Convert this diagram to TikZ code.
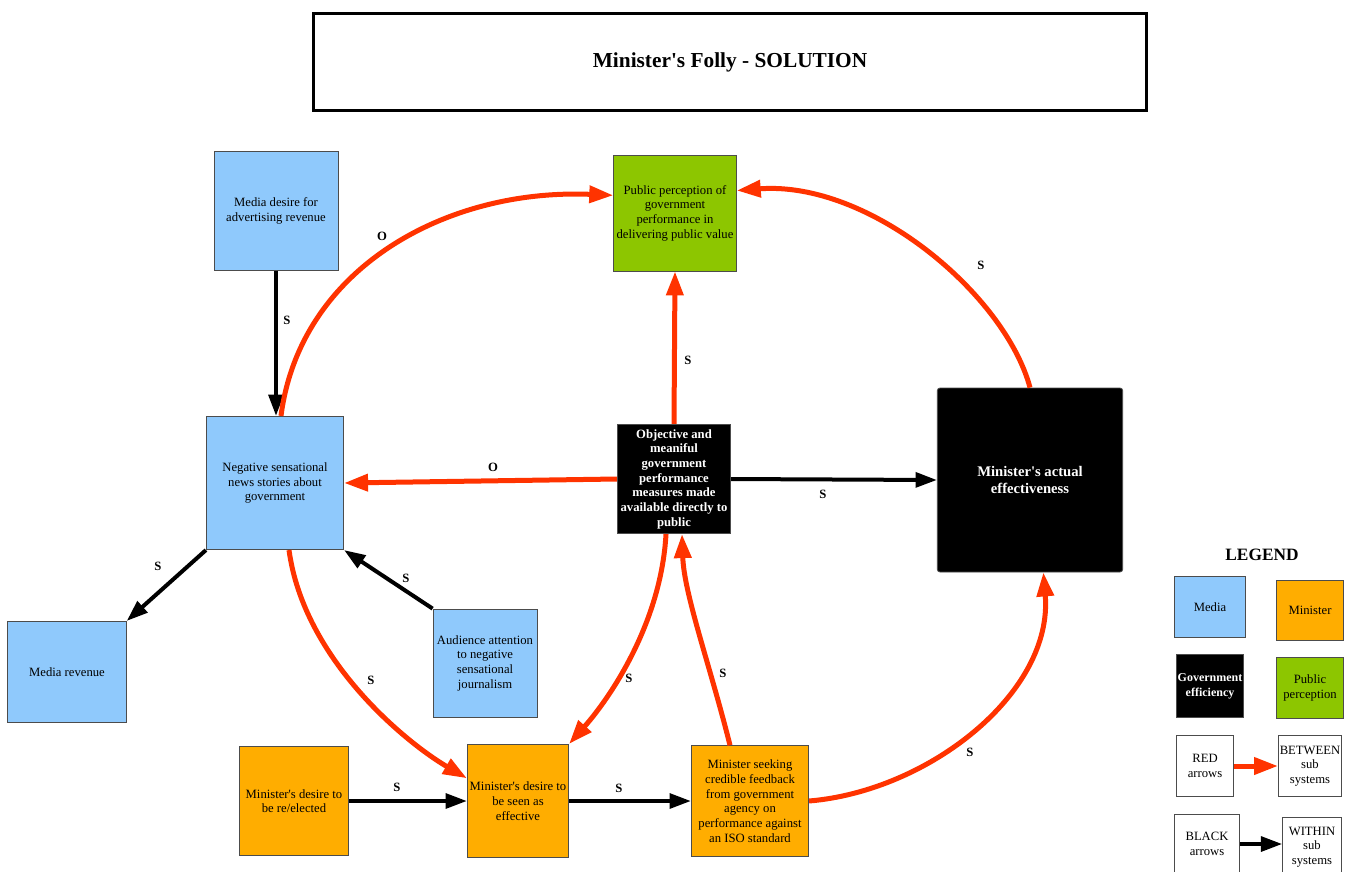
\documentclass[tikz,border=0pt]{standalone}
\usepackage{fontspec}
\setmainfont{Liberation Serif}
\usetikzlibrary{arrows.meta}

\definecolor{mediablue}{RGB}{143,201,252}
\definecolor{minorange}{RGB}{255,173,0}
\definecolor{pubgreen}{RGB}{141,198,0}
\definecolor{arrred}{RGB}{255,51,0}
\newcommand{\apos}{\textquotesingle}

\begin{document}
\begin{tikzpicture}[x=0.75pt,y=-0.75pt,
  box/.style={draw=black!70,line width=0.6pt,align=center,inner sep=1pt,font=\fontsize{9.5}{11}\selectfont},
  media/.style={box,fill=mediablue},
  minis/.style={box,fill=minorange},
  pubper/.style={box,fill=pubgreen},
  govt/.style={box,fill=black,text=white,font=\fontsize{9.5}{11}\selectfont\bfseries},
  plain/.style={box,fill=white},
  redarr/.style={arrred,line width=3.75pt,-{Triangle[length=18pt,width=12.5pt]}},
  blkarr/.style={black,line width=3pt,-{Triangle[length=16pt,width=11pt]}},
  lbl/.style={font=\fontsize{9.5}{11}\selectfont\bfseries}]

\useasboundingbox (0,0) rectangle (1348,871);

\node[draw,line width=2.2pt,minimum width=625pt,minimum height=73pt,font=\fontsize{16}{19}\selectfont\bfseries] (title) at (730,62) {Minister\apos s Folly - SOLUTION};

\node[media,minimum width=93pt,minimum height=89pt] (mdes) at (276,211) {Media desire for\\advertising revenue};
\node[pubper,minimum width=92pt,minimum height=87pt] (pub) at (675,213) {Public perception of\\government\\performance in\\delivering public value};
\node[media,minimum width=103pt,minimum height=100pt] (news) at (275,483) {Negative sensational\\news stories about\\government};
\node[govt,minimum width=85pt,minimum height=82pt] (obj) at (674,479) {Objective and\\meaniful\\government\\performance\\measures made\\available directly to\\public};
\node[govt,rounded corners=2pt,minimum width=139pt,minimum height=138pt,font=\fontsize{11}{13}\selectfont\bfseries] (act) at (1030,480) {Minister\apos s actual\\effectiveness};
\node[media,minimum width=89pt,minimum height=76pt] (mrev) at (67,672) {Media revenue};
\node[media,minimum width=78pt,minimum height=81pt] (aud) at (485,663) {Audience attention\\to negative\\sensational\\journalism};
\node[minis,minimum width=82pt,minimum height=82pt] (dre) at (294,801) {Minister\apos s desire to\\be re/elected};
\node[minis,minimum width=76pt,minimum height=85pt] (dse) at (518,801) {Minister\apos s desire to\\be seen as\\effective};
\node[minis,minimum width=88pt,minimum height=83pt] (seek) at (750,801) {Minister seeking\\credible feedback\\from government\\agency on\\performance against\\an ISO standard};

% links
\draw[blkarr] (mdes.south) -- (mdes.south |- news.north);
\draw[redarr] ([xshift=4.5pt]news.north) .. controls +(19,-147) and +(-168,-7) .. (pub.164);
\draw[redarr] (act.north) .. controls +(-25,-93) and +(133,-10) .. (pub.20);
\draw[redarr] (obj.north) -- (pub.south);
\draw[redarr] (obj.west) -- (news.east);
\draw[blkarr] (obj.east) -- (act.west);
\draw[blkarr] (news.south west) -- (mrev.north east);
\draw[blkarr] (aud.north west) -- (news.south east);
\draw[redarr] ([xshift=10.5pt]news.south) .. controls +(15,110) and +(-60,-35) .. (dse.156);
\draw[redarr] ([xshift=-6pt]obj.south) .. controls +(-5,90) and +(40,-45) .. (dse.north east);
\draw[redarr] ([xshift=-15pt]seek.north) .. controls +(-20,-80) and +(2,60) .. ([xshift=6pt]obj.south);
\draw[blkarr] (dre.east) -- (dse.west);
\draw[blkarr] (dse.east) -- (seek.west);
\draw[redarr] (seek.east) .. controls +(120,-10) and +(10,120) .. ([xshift=10pt]act.south);

\node[lbl] (l1) at (287,320) {S};
\node[lbl] (l2) at (382,236) {O};
\node[lbl] (l3) at (981,265) {S};
\node[lbl] (l4) at (688,360) {S};
\node[lbl] (l5) at (493,467) {O};
\node[lbl] (l6) at (823,494) {S};
\node[lbl] (l7) at (158,566) {S};
\node[lbl] (l8) at (406,578) {S};
\node[lbl] (l9) at (371,680) {S};
\node[lbl] (l10) at (629,678) {S};
\node[lbl] (l11) at (723,673) {S};
\node[lbl] (l12) at (397,787) {S};
\node[lbl] (l13) at (619,788) {S};
\node[lbl] (l14) at (970,752) {S};

% legend
\node[font=\fontsize{13}{15}\selectfont\bfseries] (leg) at (1262,555) {LEGEND};
\node[media,minimum width=53pt,minimum height=46pt] (kmed) at (1210,607) {Media};
\node[minis,minimum width=50pt,minimum height=45pt] (kmin) at (1310,610) {Minister};
\node[govt,minimum width=50pt,minimum height=47pt,font=\fontsize{9}{11}\selectfont\bfseries] (kgov) at (1210,686) {Government\\efficiency};
\node[pubper,minimum width=50pt,minimum height=46pt] (kpub) at (1310,688) {Public\\perception};
\node[plain,minimum width=43pt,minimum height=46pt] (kred) at (1205,766) {RED\\arrows};
\node[plain,minimum width=47pt,minimum height=46pt] (kbtw) at (1310,766) {BETWEEN\\sub\\systems};
\node[plain,minimum width=49pt,minimum height=45pt] (kblk) at (1207,844) {BLACK\\arrows};
\node[plain,minimum width=44pt,minimum height=45pt] (kwth) at (1312,847) {WITHIN\\sub\\systems};
\draw[redarr] (kred.east) -- (kbtw.west);
\draw[blkarr] (kblk.east) -- (kblk.east -| kwth.west);

\end{tikzpicture}
\end{document}
